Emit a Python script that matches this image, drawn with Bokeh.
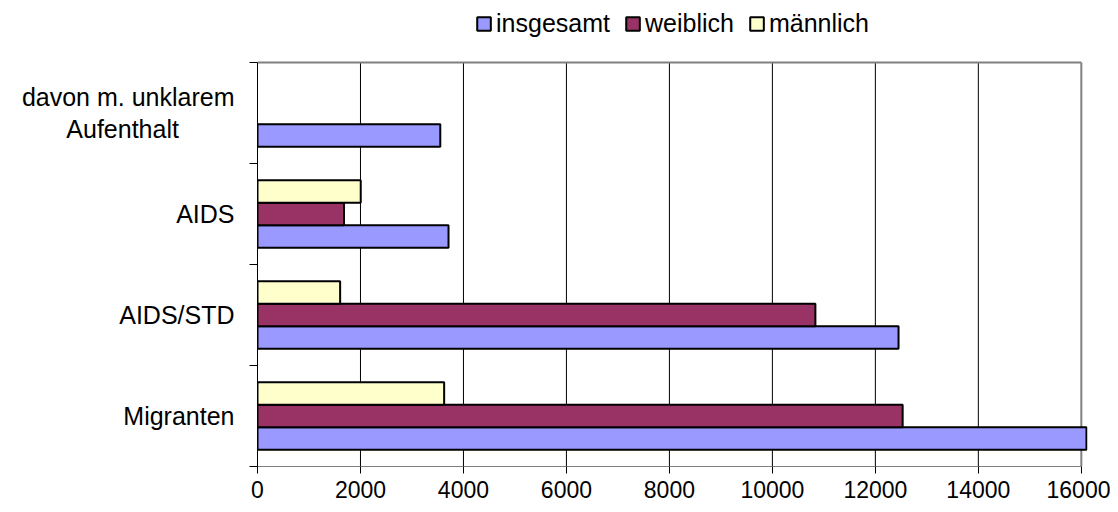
from bokeh.plotting import figure
from bokeh.models import (ColumnDataSource, Range1d, FixedTicker, Legend, LegendItem)
from bokeh.transform import dodge
from bokeh.embed import file_html
from bokeh.resources import INLINE

categories = ["Migranten", "AIDS/STD", "AIDS", "davon m. unklarem\nAufenthalt"]
insgesamt = [16100, 12450, 3710, 3550]
weiblich = [12530, 10835, 1680, float("nan")]
maennlich = [3625, 1605, 2005, float("nan")]
x_ticks = [0, 2000, 4000, 6000, 8000, 10000, 12000, 14000, 16000]

FONT = "Liberation Sans"
n = len(categories)
y_lo, y_hi = -0.5, n - 0.5

src = ColumnDataSource(dict(
    pos=list(range(n)),
    insgesamt=insgesamt,
    weiblich=weiblich,
    maennlich=maennlich,
))

p = figure(width=1110, height=510, output_backend="svg", toolbar_location=None,
           x_range=Range1d(0, 16120), y_range=Range1d(y_lo, y_hi + 0.574),
           min_border_left=257, min_border_right=23, min_border_top=4, min_border_bottom=44)
p.outline_line_color = None
p.background_fill_color = "white"
p.border_fill_color = "white"
p.xgrid.grid_line_color = None
p.ygrid.grid_line_color = None

# grid lines and plot-area border, limited to the category span
inner = x_ticks[1:-1]
p.segment(x0=inner, x1=inner, y0=[y_lo] * len(inner), y1=[y_hi] * len(inner),
          line_color="black", line_width=1)
p.segment(x0=[x_ticks[-1]], x1=[x_ticks[-1]], y0=[y_lo], y1=[y_hi],
          line_color="#808080", line_width=2)
p.segment(x0=[x_ticks[0]], x1=[x_ticks[-1]], y0=[y_hi], y1=[y_hi],
          line_color="#808080", line_width=2)

bw = 0.223
r1 = p.hbar(y=dodge("pos", -bw, range=p.y_range), right="insgesamt", left=0, height=bw, source=src,
            fill_color="#9999FF", line_color="black", line_width=2)
r2 = p.hbar(y=dodge("pos", 0, range=p.y_range), right="weiblich", left=0, height=bw, source=src,
            fill_color="#993366", line_color="black", line_width=2)
r3 = p.hbar(y=dodge("pos", bw, range=p.y_range), right="maennlich", left=0, height=bw, source=src,
            fill_color="#FFFFCC", line_color="black", line_width=2)

# x axis
xa = p.xaxis[0]
xa.ticker = FixedTicker(ticks=x_ticks)
xa.bounds = (x_ticks[0], x_ticks[-1])
xa.axis_line_color = "#808080"
xa.major_tick_out = 7
xa.major_tick_in = 0
xa.minor_tick_line_color = None
xa.major_label_standoff = 7
xa.major_label_text_font = FONT
xa.major_label_text_font_size = "23px"
xa.major_label_text_color = "black"

# y axis (multi-line label lines centred like the original)
def centred(label):
    lines = label.split("\n")
    if len(lines) == 1:
        return label
    return lines[0] + "\n" + lines[1] + "\u00a0" * 8

ya = p.yaxis[0]
ya.ticker = FixedTicker(ticks=list(range(n)), minor_ticks=[i - 0.5 for i in range(n + 1)])
ya.bounds = (y_lo, y_hi)
ya.major_label_overrides = {i: centred(c) for i, c in enumerate(categories)}
ya.axis_line_color = "black"
ya.major_tick_out = 0
ya.major_tick_in = 0
ya.major_tick_line_color = None
ya.minor_tick_out = 8
ya.minor_tick_in = 0
ya.minor_tick_line_color = "black"
ya.major_label_standoff = 15
ya.major_label_text_font = FONT
ya.major_label_text_font_size = "25px"
ya.major_label_text_color = "black"
ya.major_label_text_line_height = 1.15

legend = Legend(items=[LegendItem(label="insgesamt", renderers=[r1]),
                       LegendItem(label="weiblich", renderers=[r2]),
                       LegendItem(label="männlich", renderers=[r3])],
                orientation="horizontal", location="top_center",
                label_text_font=FONT, label_text_font_size="25px", label_text_color="black",
                glyph_width=17, glyph_height=17, label_standoff=4, spacing=14,
                padding=0, margin=5, border_line_color=None, background_fill_alpha=0)
p.add_layout(legend, "center")

open("out.html", "w").write(file_html(p, INLINE))
